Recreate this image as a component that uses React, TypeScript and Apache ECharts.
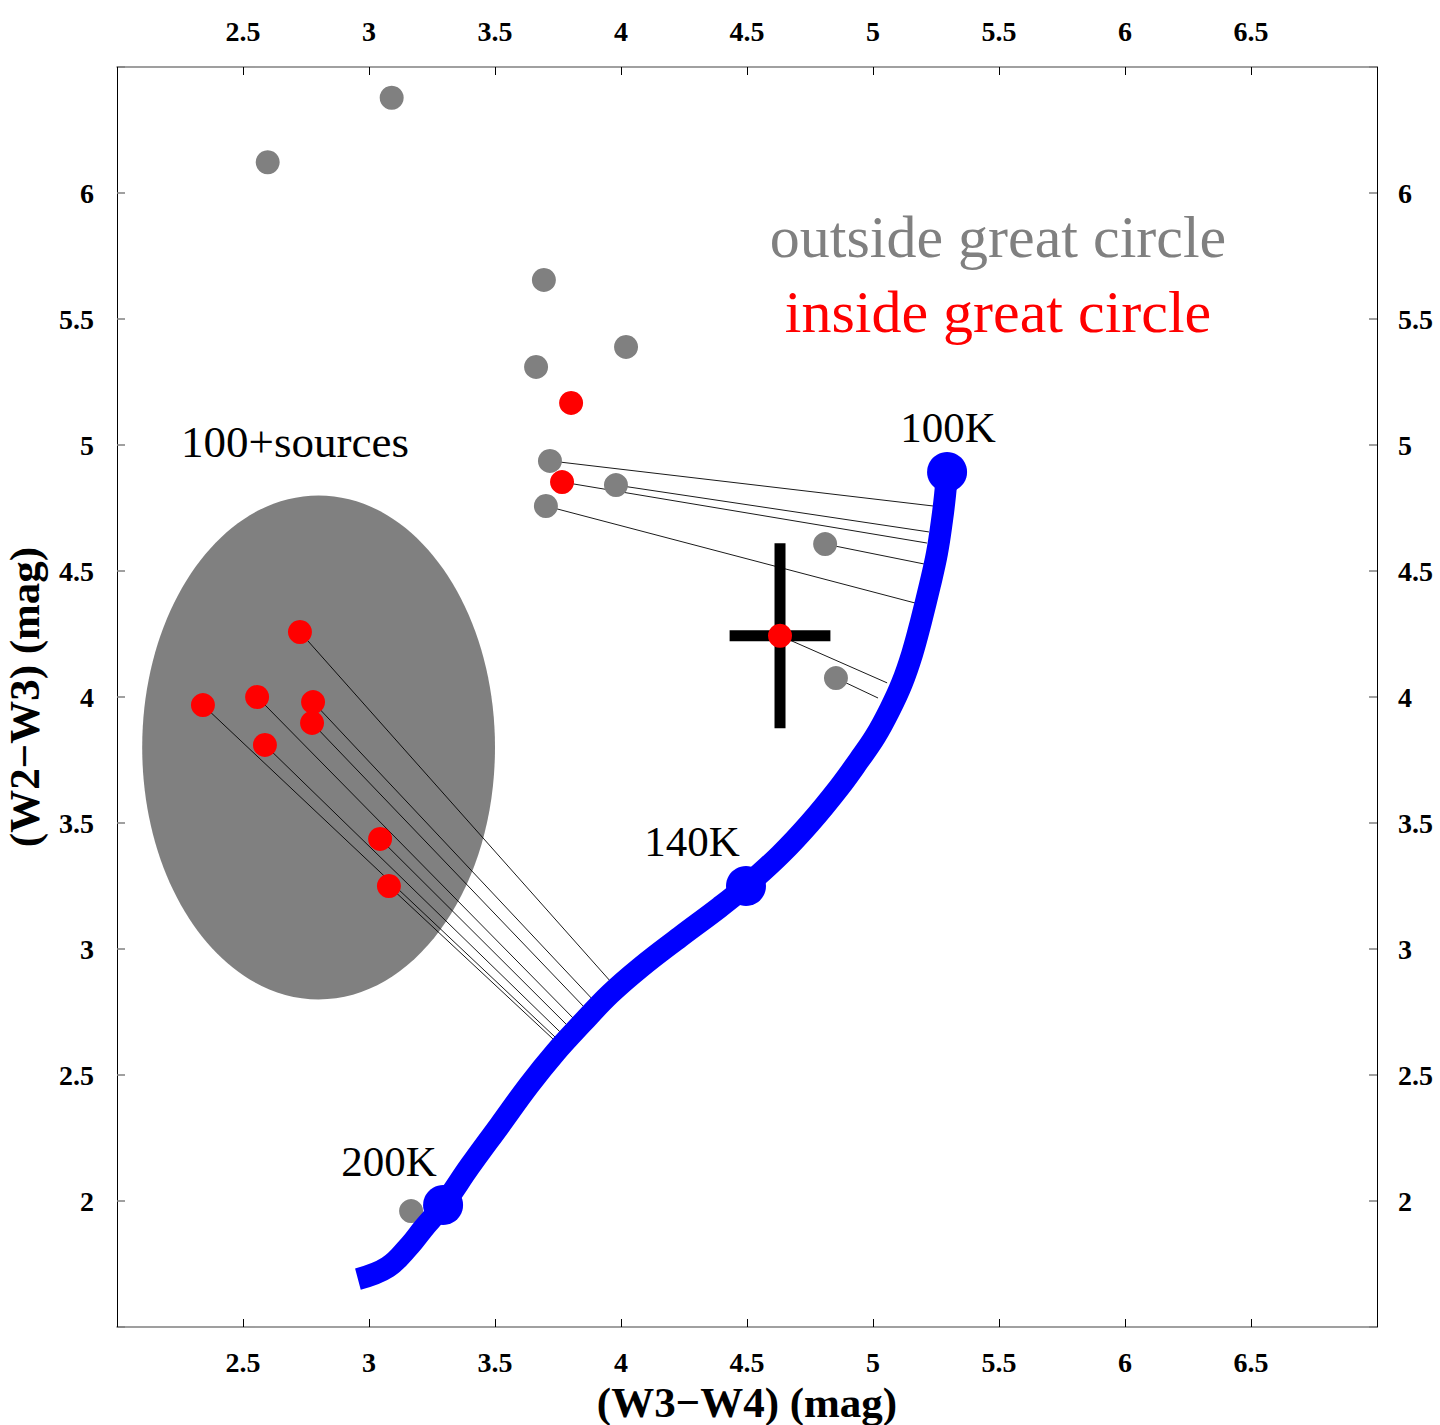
import React, { useEffect, useRef } from "react";
import * as echarts from "echarts";

// ---- data ----
const grayX = [3.09, 2.598, 3.694, 4.02, 3.663, 3.718, 3.98, 3.702, 4.81, 4.853, 3.167];
const grayY = [6.378, 6.122, 5.655, 5.389, 5.31, 4.937, 4.841, 4.758, 4.607, 4.075, 1.96];

const redX = [3.802, 3.766, 4.631, 2.726, 2.556, 2.341, 2.778, 2.774, 2.587, 3.044, 3.079];
const redY = [5.167, 4.853, 4.243, 4.258, 4.0, 3.968, 3.98, 3.897, 3.81, 3.437, 3.25];

// model curve (W3-W4, W2-W3)
const curveX = [2.956, 3.075, 3.163, 3.214, 3.294, 3.401, 3.52, 3.635, 3.74, 3.845, 3.956, 4.075, 4.234, 4.393, 4.496, 4.631, 4.75, 4.865, 4.945, 5.01, 5.067, 5.115, 5.155, 5.19, 5.226, 5.254, 5.274, 5.286, 5.294];
const curveY = [1.69, 1.738, 1.825, 1.889, 1.984, 2.139, 2.302, 2.46, 2.59, 2.705, 2.821, 2.925, 3.048, 3.167, 3.25, 3.373, 3.5, 3.64, 3.75, 3.845, 3.95, 4.055, 4.17, 4.298, 4.444, 4.571, 4.702, 4.802, 4.893];

// temperature marks on the curve
const tempLabels = ["100K", "140K", "200K"];
const tempX = [5.294, 4.496, 3.294];
const tempY = [4.893, 3.25, 1.984];

// connecting lines: source (x,y) -> model curve (x,y)
const linkFromX = [3.718, 3.98, 3.766, 4.81, 3.702, 4.631, 4.853, 2.726, 2.778, 2.774, 2.556, 3.044, 2.587, 2.341, 3.079];
const linkFromY = [4.937, 4.841, 4.853, 4.607, 4.758, 4.243, 4.075, 4.258, 3.98, 3.897, 4.0, 3.437, 3.81, 3.968, 3.25];
const linkToX = [5.238, 5.222, 5.214, 5.202, 5.167, 5.056, 5.02, 3.964, 3.889, 3.857, 3.81, 3.786, 3.758, 3.738, 3.73];
const linkToY = [4.758, 4.655, 4.611, 4.528, 4.373, 4.056, 3.996, 2.865, 2.798, 2.766, 2.726, 2.698, 2.671, 2.651, 2.643];

// "100+sources" region: centre x, centre y, semi-axis x, semi-axis y
const regionEllipse = [2.8, 3.8, 0.7, 1.0];

// error bars of the highlighted source: x, y, xerr, yerr
const errorBar = [4.631, 4.243, 0.2, 0.367];

const xTicks = { min: 2, max: 7, interval: 0.5 };
const yTicks = { min: 1.5, max: 6.5, interval: 0.5 };

const FONT = "'Liberation Serif', 'Times New Roman', Times, serif";

export default function App() {
  const ref = useRef<HTMLDivElement>(null);

  useEffect(() => {
    if (!ref.current) return;
    const chart = echarts.init(ref.current, undefined, { renderer: "svg" });

    const tickLabel = {
      fontFamily: FONT,
      fontSize: 28,
      fontWeight: "bold",
      color: "#000",
    };
    const xFmt = (v: number) => (v <= xTicks.min || v >= xTicks.max ? "" : String(v));
    const yFmt = (v: number) => (v <= yTicks.min || v >= yTicks.max ? "" : String(v));

    const xAxisBase = {
      type: "value",
      min: xTicks.min,
      max: xTicks.max,
      interval: xTicks.interval,
      splitLine: { show: false },
      axisLine: { show: true, onZero: false, lineStyle: { color: "#808080", width: 1.5 } },
      axisTick: { show: true, inside: true, length: 8, lineStyle: { color: "#000", width: 1 } },
    };
    const yAxisBase = {
      type: "value",
      min: yTicks.min,
      max: yTicks.max,
      interval: yTicks.interval,
      splitLine: { show: false },
      axisLine: { show: true, onZero: false, lineStyle: { color: "#000", width: 1 } },
      axisTick: { show: true, inside: true, length: 8, lineStyle: { color: "#808080", width: 1.5 } },
    };

    const option: any = {
      animation: false,
      backgroundColor: "#fff",
      grid: { left: 117, top: 67, width: 1260, height: 1260, containLabel: false, outerBoundsMode: "none" },
      xAxis: [
        {
          ...xAxisBase,
          position: "bottom",
          name: "(W3\u2212W4) (mag)",
          nameLocation: "middle",
          nameGap: 48,
          nameTextStyle: { fontFamily: FONT, fontSize: 43, fontWeight: "bold", color: "#000" },
          axisLabel: { ...tickLabel, margin: 21, formatter: xFmt },
        },
        {
          ...xAxisBase,
          position: "top",
          axisLabel: { ...tickLabel, margin: 22, formatter: xFmt },
        },
      ],
      yAxis: [
        {
          ...yAxisBase,
          position: "left",
          name: "(W2\u2212W3) (mag)",
          nameLocation: "middle",
          nameGap: 71,
          nameTextStyle: { fontFamily: FONT, fontSize: 43, fontWeight: "bold", color: "#000" },
          axisLabel: { ...tickLabel, margin: 23, formatter: yFmt },
        },
        {
          ...yAxisBase,
          position: "right",
          axisLabel: { ...tickLabel, margin: 21, formatter: yFmt },
        },
      ],
      series: [
        {
          type: "custom",
          name: "region",
          xAxisIndex: 0,
          yAxisIndex: 0,
          silent: true,
          encode: { x: 0, y: 1 },
          data: [regionEllipse],
          renderItem: (params: any, api: any) => {
            const c = api.coord([api.value(0), api.value(1)]);
            const s = api.size([api.value(2), api.value(3)]);
            return {
              type: "ellipse",
              shape: { cx: c[0], cy: c[1], rx: s[0], ry: s[1] },
              style: { fill: "#808080" },
            };
          },
        },
        {
          type: "lines",
          coordinateSystem: "cartesian2d",
          xAxisIndex: 0,
          yAxisIndex: 0,
          silent: true,
          lineStyle: { color: "#000", width: 0.9, opacity: 1, curveness: 0 },
          data: linkFromX.map((x, i) => ({
            coords: [
              [x, linkFromY[i]],
              [linkToX[i], linkToY[i]],
            ],
          })),
        },
        {
          type: "scatter",
          name: "outside great circle",
          symbol: "circle",
          symbolSize: 24,
          itemStyle: { color: "#808080", opacity: 1 },
          data: grayX.map((x, i) => [x, grayY[i]]),
        },
        {
          type: "line",
          name: "model",
          symbol: "none",
          smooth: 0.4,
          lineStyle: { color: "#0000ff", width: 22, cap: "butt", join: "round", opacity: 1 },
          data: curveX.map((x, i) => [x, curveY[i]]),
        },
        {
          type: "scatter",
          name: "temperatures",
          symbol: "circle",
          symbolSize: 40,
          itemStyle: { color: "#0000ff", opacity: 1 },
          label: {
            show: true,
            position: "inside",
            fontFamily: FONT,
            fontSize: 43,
            color: "#000",
            opacity: 1,
            align: "center",
            verticalAlign: "middle",
            formatter: (p: any) => tempLabels[p.dataIndex],
          },
          data: tempX.map((x, i) => ({
            value: [x, tempY[i]],
            label: { offset: i === 0 ? [1, -44] : i === 1 ? [-54, -45] : [-54, -44] },
          })),
        },
        {
          type: "custom",
          name: "error",
          silent: true,
          encode: { x: 0, y: 1 },
          data: [errorBar],
          renderItem: (params: any, api: any) => {
            const x = api.value(0);
            const y = api.value(1);
            const dx = api.value(2);
            const dy = api.value(3);
            const l = api.coord([x - dx, y]);
            const r = api.coord([x + dx, y]);
            const t = api.coord([x, y + dy]);
            const b = api.coord([x, y - dy]);
            return {
              type: "group",
              children: [
                { type: "line", shape: { x1: l[0], y1: l[1], x2: r[0], y2: r[1] }, style: { stroke: "#000", lineWidth: 11 } },
                { type: "line", shape: { x1: t[0], y1: t[1], x2: b[0], y2: b[1] }, style: { stroke: "#000", lineWidth: 11 } },
              ],
            };
          },
        },
        {
          type: "scatter",
          name: "inside great circle",
          symbol: "circle",
          symbolSize: 24,
          itemStyle: { color: "#ff0000", opacity: 1 },
          data: redX.map((x, i) => [x, redY[i]]),
        },
      ],
      graphic: [
        {
          type: "text",
          x: 998,
          y: 237,
          style: { text: "outside great circle", fill: "#808080", font: `60px ${FONT}`, align: "center", verticalAlign: "middle" },
        },
        {
          type: "text",
          x: 998,
          y: 312,
          style: { text: "inside great circle", fill: "#ff0000", font: `60px ${FONT}`, align: "center", verticalAlign: "middle" },
        },
        {
          type: "text",
          x: 295,
          y: 442,
          style: { text: "100+sources", fill: "#000", font: `45px ${FONT}`, align: "center", verticalAlign: "middle" },
        },
      ],
    };

    chart.setOption(option);
    return () => chart.dispose();
  }, []);

  return (
    <div
      ref={ref}
      style={{ position: "fixed", left: 0, top: 0, width: 1440, height: 1425, background: "#fff" }}
    />
  );
}
